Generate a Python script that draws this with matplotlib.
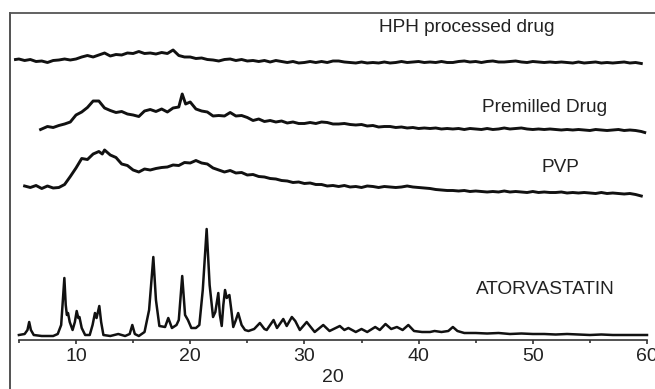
import matplotlib
matplotlib.use("Agg")
import matplotlib.pyplot as plt

plt.rcParams['font.family'] = ['Liberation Sans', 'DejaVu Sans']

# ---------------- data (2-theta in degrees, intensity in arbitrary stacked units) -------------
hph_x = [4.7, 5.0, 5.5, 6.0, 6.5, 7.0, 7.5, 8.0, 8.5, 9.0, 9.5, 10.0, 10.5, 11.0, 11.5, 12.0,
         12.5, 13.0, 13.5, 14.0, 14.5, 15.0, 15.5, 16.0, 16.5, 17.0, 17.5, 18.0, 18.5, 19.0,
         19.5, 20.0, 20.5, 21.0, 21.5, 22.0, 22.5, 23.0, 23.5, 24.0, 24.5, 25.0, 25.5, 26.0,
         26.5, 27.0, 27.5, 28.0, 28.5, 29.0, 29.5, 30.0, 30.5, 31.0, 31.5, 32.0, 32.5, 33.0,
         33.5, 34.0, 34.5, 35.0, 35.5, 36.0, 36.5, 37.0, 37.5, 38.0, 38.5, 39.0, 39.5, 40.0,
         40.5, 41.0, 41.5, 42.0, 42.5, 43.0, 43.5, 44.0, 44.5, 45.0, 45.5, 46.0, 46.5, 47.0,
         47.5, 48.0, 48.5, 49.0, 49.5, 50.0, 50.5, 51.0, 51.5, 52.0, 52.5, 53.0, 53.5, 54.0,
         54.5, 55.0, 55.5, 56.0, 56.5, 57.0, 57.5, 58.0, 58.5, 59.0, 59.5]
hph_y = [280.5, 281, 279.5, 280.5, 278.5, 279, 277.5, 279.5, 280, 281, 280, 281, 283, 284.5,
         283, 285, 287, 284, 285.5, 285, 287, 286.5, 288.5, 286.5, 287, 286, 287.5, 286.5,
         290, 284.5, 283, 283, 281.5, 282, 280.5, 280, 279, 280.5, 281, 279.5, 280.5, 279,
         279.5, 278.5, 279.5, 278, 279.5, 278.5, 277.5, 278.5, 277, 277.5, 278.5, 277.5,
         278.5, 277.5, 279, 279, 278, 277.5, 277, 278, 277, 277.5, 277, 278, 277, 277.5,
         278.5, 277.5, 278, 278.5, 277.5, 278, 277.5, 278.5, 277.5, 277.5, 278.5, 279, 278,
         278.5, 277.5, 278.5, 279, 278, 278, 278.5, 279, 278, 277.5, 278.5, 278, 277.5, 278,
         277.5, 278, 277.5, 277, 278, 277, 277.5, 278, 277, 277.5, 277, 277.5, 278, 277,
         277.5, 276.5]

premilled_x = [6.9, 7.0, 7.5, 8.0, 8.5, 9.0, 9.5, 10.0, 10.5, 11.0, 11.5, 12.0, 12.5, 13.0,
               13.5, 14.0, 14.5, 15.0, 15.5, 16.0, 16.5, 17.0, 17.5, 18.0, 18.5, 19.0, 19.3,
               19.6, 20.0, 20.5, 21.0, 21.5, 22.0, 22.5, 23.0, 23.5, 24.0, 24.5, 25.0, 25.5,
               26.0, 26.5, 27.0, 27.5, 28.0, 28.5, 29.0, 29.5, 30.0, 30.5, 31.0, 31.5, 32.0,
               32.5, 33.0, 33.5, 34.0, 34.5, 35.0, 35.5, 36.0, 36.5, 37.0, 37.5, 38.0, 38.5,
               39.0, 39.5, 40.0, 40.5, 41.0, 41.5, 42.0, 42.5, 43.0, 43.5, 44.0, 44.5, 45.0,
               45.5, 46.0, 46.5, 47.0, 47.5, 48.0, 48.5, 49.0, 49.5, 50.0, 50.5, 51.0, 51.5,
               52.0, 52.5, 53.0, 53.5, 54.0, 54.5, 55.0, 55.5, 56.0, 56.5, 57.0, 57.5, 58.0,
               58.5, 59.0, 59.5, 59.8]
premilled_y = [210.5, 211, 213.5, 212.5, 214.5, 216, 218, 225, 228, 232.5, 239, 239, 232,
               229.5, 227.5, 228.5, 226, 225, 223.5, 229, 230.5, 228.5, 231, 228, 232, 233,
               246, 236, 238, 231, 229, 228, 224, 224.5, 224, 227.5, 224, 224.5, 222.5, 219.5,
               221, 218.5, 219.5, 218, 219, 217, 218, 216.5, 216.5, 217.5, 216.5, 218, 217.5,
               216, 216, 216.5, 215.5, 215, 215.5, 214, 214.5, 213, 213.5, 213.5, 212.5, 213,
               212, 212.5, 211.5, 212, 211.5, 212, 211, 211.5, 211, 211.5, 210.5, 211.5, 211,
               210.5, 211.5, 210.5, 211, 212, 211, 211.5, 212, 211, 210.5, 211, 210.5, 211,
               210.5, 210, 210.5, 210, 210.5, 210, 209.5, 210.5, 210, 209.5, 210, 210.5, 209.5,
               210, 209.5, 208.5, 207.5]

pvp_x = [5.5, 6.0, 6.5, 7.0, 7.5, 8.0, 8.5, 9.0, 9.5, 10.0, 10.5, 11.0, 11.5, 12.0, 12.3,
         12.5, 13.0, 13.5, 14.0, 14.5, 15.0, 15.5, 16.0, 16.5, 17.0, 17.5, 18.0, 18.5, 19.0,
         19.5, 20.0, 20.5, 21.0, 21.5, 22.0, 22.5, 23.0, 23.5, 24.0, 24.5, 25.0, 25.5, 26.0,
         26.5, 27.0, 27.5, 28.0, 28.5, 29.0, 29.5, 30.0, 30.5, 31.0, 31.5, 32.0, 32.5, 33.0,
         33.5, 34.0, 34.5, 35.0, 35.5, 36.0, 36.5, 37.0, 37.5, 38.0, 38.5, 39.0, 39.5, 40.0,
         40.5, 41.0, 41.5, 42.0, 42.5, 43.0, 43.5, 44.0, 44.5, 45.0, 45.5, 46.0, 46.5, 47.0,
         47.5, 48.0, 48.5, 49.0, 49.5, 50.0, 50.5, 51.0, 51.5, 52.0, 52.5, 53.0, 53.5, 54.0,
         54.5, 55.0, 55.5, 56.0, 56.5, 57.0, 57.5, 58.0, 58.5, 59.0, 59.5]
pvp_y = [154, 152.5, 154.5, 151.5, 154, 152, 152.5, 155.5, 163.5, 172, 181.5, 180.5, 186,
         188.5, 186, 190, 185, 182.5, 176, 174.5, 170, 168, 171, 170, 171.5, 172.5, 173, 175,
         174.5, 177.5, 177, 179.5, 177, 176, 172, 170, 168, 169.5, 167, 167.5, 165, 165.5,
         163.5, 163, 161.5, 161, 159.5, 159, 157.5, 158, 156.5, 157, 155.5, 155.5, 154,
         154.5, 153.5, 154.5, 153, 153.5, 152.5, 154, 153.5, 152.5, 153.5, 153, 152.5, 153,
         154, 153, 152.5, 152, 151.5, 150.5, 150, 149.5, 149.5, 149, 149.5, 148.5, 149,
         148.5, 148, 148.5, 148, 149, 148, 148.5, 148, 147.5, 148.5, 147.5, 148, 147.5,
         147.5, 148, 147, 147.5, 147, 147.5, 147, 146.5, 147.5, 146.5, 147, 146.5, 146,
         146.5, 145.5, 144]

atorva_x = [5.0, 5.5, 5.75, 5.9, 6.05, 6.3, 7.0, 8.0, 8.4, 8.7, 8.85, 8.98, 9.1, 9.2, 9.3,
            9.45, 9.7, 9.9, 10.06, 10.2, 10.3, 10.5, 10.8, 11.2, 11.45, 11.66, 11.8, 12.04,
            12.2, 12.4, 13.0, 13.7, 14.3, 14.7, 14.93, 15.15, 15.5, 16.0, 16.4, 16.77, 17.0,
            17.3, 17.8, 18.08, 18.4, 18.8, 19.0, 19.3, 19.55, 19.8, 20.1, 20.5, 20.8, 21.1,
            21.44, 21.7, 22.0, 22.2, 22.46, 22.6, 22.76, 22.9, 23.05, 23.2, 23.43, 23.6,
            23.77, 24.0, 24.2, 24.5, 24.8, 25.1, 25.6, 26.1, 26.5, 26.7, 27.3, 27.6, 28.15,
            28.45, 28.9, 29.2, 29.6, 30.2, 30.9, 31.65, 32.2, 33.1, 33.5, 33.85, 34.5, 35.0,
            35.5, 36.2, 36.6, 37.1, 37.6, 38.1, 38.6, 39.1, 39.6, 40.3, 41.0, 41.4, 42.0,
            42.6, 43.0, 43.4, 44.0, 45.0, 46.0, 47.0, 48.0, 49.0, 50.0, 51.0, 52.0, 53.0,
            54.0, 55.0, 56.0, 57.0, 58.0, 59.0, 60.0]
atorva_y = [5, 6, 10, 18, 10, 5, 4, 4, 6, 15, 40, 62, 35, 25, 27, 18, 10, 18, 29, 22, 23, 12,
            5, 5, 15, 27, 22, 34, 18, 5, 4, 6, 4, 6, 15, 6, 4, 8, 30, 83, 40, 14, 13, 22, 12,
            15, 20, 64, 25, 20, 12, 12, 15, 50, 111, 55, 23, 28, 47, 25, 14, 35, 50, 42, 45,
            30, 13, 20, 27, 15, 10, 9, 11, 17, 11, 10, 20, 12, 21, 14, 23, 19, 10, 18, 8, 15,
            9, 14, 10, 12, 8, 11, 8, 13, 10, 16, 11, 13, 10, 15, 9, 8, 8, 9, 8, 9, 13, 9, 7,
            7, 6.5, 7, 6, 6.5, 6, 6, 5.5, 6, 5.5, 5, 5.5, 5, 5, 5, 5]

labels = ["HPH processed drug", "Premilled Drug", "PVP", "ATORVASTATIN"]
x_ticks = [10, 20, 30, 40, 50, 60]
x_minor_ticks = [5, 15, 25, 35, 45, 55]
x_label = "20"

# ---------------- figure ----------------
W, H = 655, 389
fig = plt.figure(figsize=(W / 100, H / 100), dpi=100)
ax = fig.add_axes([10 / W, 0, 645 / W, 376 / H])
ax.set_xlim(4.22, 60.7)
ax.set_ylim(-49, 327)

lc = '#111111'
for xs, ys in [(hph_x, hph_y), (premilled_x, premilled_y), (pvp_x, pvp_y)]:
    ax.plot(xs, ys, color=lc, lw=2.1, solid_joinstyle='round')
ax.plot(atorva_x, atorva_y, color=lc, lw=1.8, solid_joinstyle='round')

# spines
ax.spines['right'].set_visible(False)
ax.spines['left'].set_color('#444444')
ax.spines['left'].set_linewidth(1.3)
ax.spines['top'].set_color('#555555')
ax.spines['top'].set_linewidth(1.3)
ax.spines['bottom'].set_position(('data', 0))
ax.spines['bottom'].set_bounds(5, 60)
ax.spines['bottom'].set_color('#333333')
ax.spines['bottom'].set_linewidth(1.2)

ax.set_yticks([])
ax.set_xticks(x_ticks)
ax.set_xticks(x_minor_ticks, minor=True)
ax.tick_params(axis='x', which='major', direction='out', length=3, width=1.2,
               colors='#333333', labelsize=14, pad=3, labelcolor='#222222')
ax.tick_params(axis='x', which='minor', direction='out', length=2.5, width=1.2,
               colors='#333333')

fig.text(333 / W, 1 - 377 / H, x_label, fontsize=14, ha='center', va='center', color='#222222')

tc = '#222222'
fs = 13.7
def put(txt, px, py):
    x = 3.345 + px * 0.08757
    y = 340 - py
    ax.text(x, y, txt, fontsize=fs, ha='left', va='center', color=tc)

put(labels[0], 379, 27)
put(labels[1], 482, 107)
put(labels[2], 541, 168)
put(labels[3], 476, 290)

fig.savefig("out.png", dpi=100)
